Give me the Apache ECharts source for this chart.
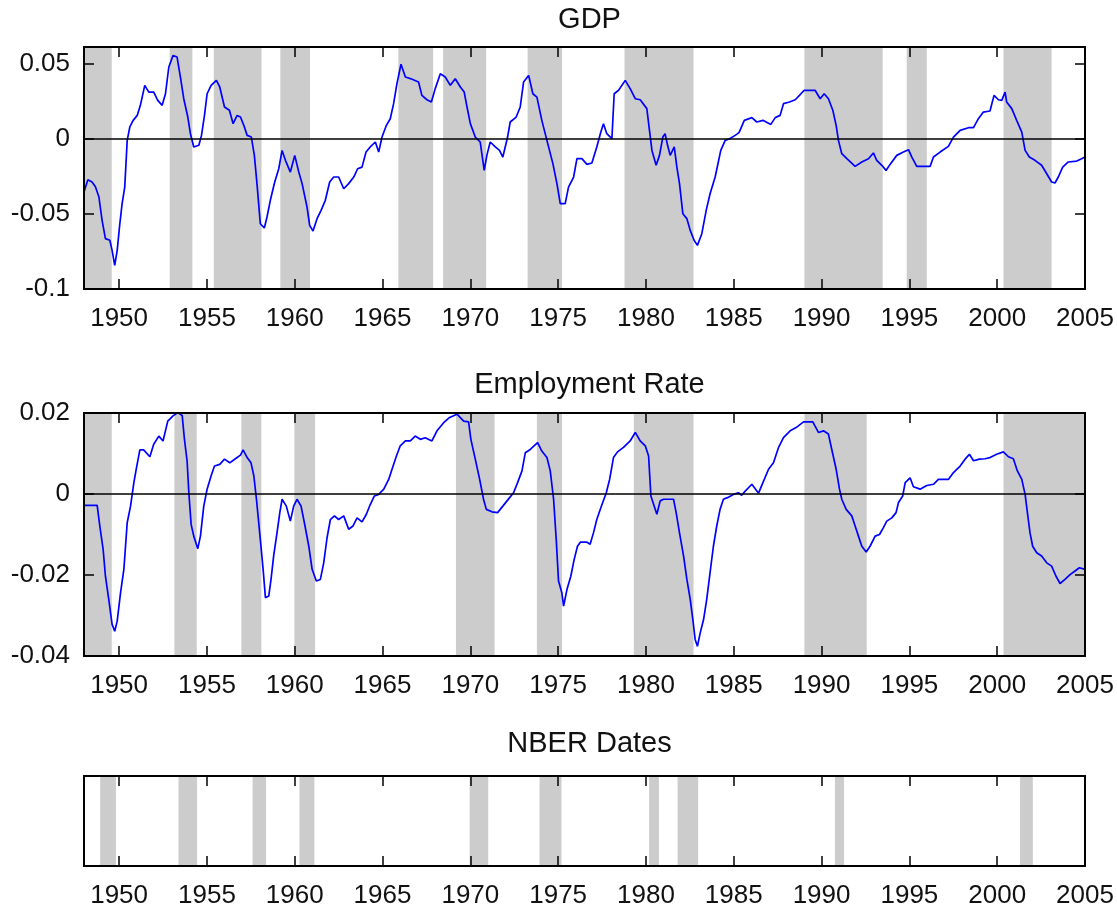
<!DOCTYPE html>
<html>
<head>
<meta charset="utf-8">
<title>GDP, Employment Rate and NBER Dates</title>
<script src="https://cdn.jsdelivr.net/npm/echarts@6/dist/echarts.min.js"></script>
<style>
  html, body { margin: 0; padding: 0; background: #fff; }
  #main { width: 1117px; height: 914px; }
</style>
</head>
<body>
<div id="main"></div>
<script>
// x axis (years)
const yearTicks = [1950, 1955, 1960, 1965, 1970, 1975, 1980, 1985, 1990, 1995, 2000, 2005];
const gdpTicks = [-0.1, -0.05, 0, 0.05];
const gdpTickLabels = ['-0.1', '-0.05', '0', '0.05'];
const empTicks = [-0.04, -0.02, 0, 0.02];
const empTickLabels = ['-0.04', '-0.02', '0', '0.02'];

// shaded periods [start, end]
const gdpRegimes = [
  [1948.0, 1949.58], [1952.88, 1954.17], [1955.39, 1958.11], [1959.18, 1960.87],
  [1965.9, 1967.88], [1968.45, 1970.9], [1973.26, 1975.22], [1978.78, 1982.71],
  [1989.02, 1993.48], [1994.85, 1995.99], [2000.36, 2003.1]
];
const empRegimes = [
  [1948.0, 1949.58], [1953.15, 1954.42], [1956.96, 1958.1], [1959.98, 1961.16],
  [1969.18, 1971.38], [1973.79, 1975.22], [1979.31, 1982.71], [1989.02, 1992.57],
  [2000.36, 2005.0]
];
const nberDates = [
  [1948.92, 1949.82], [1953.38, 1954.44], [1957.6, 1958.37], [1960.27, 1961.12],
  [1969.96, 1971.02], [1973.94, 1975.19], [1980.18, 1980.74], [1981.8, 1982.97],
  [1990.76, 1991.28], [2001.3, 2002.03]
];

// GDP (year, value)
const gdpPoints = [
  [1948.0,-0.0355],[1948.22,-0.0273],[1948.46,-0.0288],[1948.65,-0.032],[1948.85,-0.0388],
  [1949.03,-0.0543],[1949.22,-0.0665],[1949.47,-0.0676],[1949.6,-0.0743],[1949.75,-0.0843],
  [1949.89,-0.0743],[1950.04,-0.0566],[1950.17,-0.0432],[1950.32,-0.0322],[1950.46,-0.0011],
  [1950.61,0.0078],[1950.8,0.0122],[1951.03,0.0155],[1951.21,0.0222],[1951.46,0.0355],
  [1951.69,0.031],[1951.97,0.031],[1952.2,0.0255],[1952.45,0.0222],[1952.64,0.0299],
  [1952.83,0.0477],[1953.07,0.0554],[1953.3,0.0543],[1953.49,0.041],[1953.68,0.0266],
  [1953.91,0.0144],[1954.06,0.0033],[1954.25,-0.0055],[1954.54,-0.0044],[1954.69,0.0022],
  [1954.86,0.0155],[1955.01,0.0299],[1955.24,0.0355],[1955.54,0.0388],[1955.73,0.0344],
  [1956.0,0.0211],[1956.28,0.0189],[1956.49,0.01],[1956.72,0.0155],[1956.91,0.0144],
  [1957.1,0.0089],[1957.29,0.0022],[1957.53,0.0011],[1957.7,-0.0111],[1957.85,-0.0299],
  [1958.04,-0.0566],[1958.27,-0.0594],[1958.42,-0.0521],[1958.61,-0.041],[1958.86,-0.0288],
  [1959.09,-0.02],[1959.28,-0.0078],[1959.47,-0.0144],[1959.75,-0.0222],[1960.0,-0.0111],
  [1960.23,-0.0222],[1960.42,-0.0299],[1960.7,-0.0455],[1960.85,-0.0577],[1961.04,-0.0614],
  [1961.27,-0.0532],[1961.5,-0.0477],[1961.74,-0.041],[1961.99,-0.0288],[1962.22,-0.0255],
  [1962.5,-0.0255],[1962.79,-0.0333],[1963.07,-0.0299],[1963.36,-0.0255],[1963.58,-0.02],
  [1963.83,-0.0189],[1964.06,-0.0089],[1964.3,-0.0055],[1964.59,-0.0022],[1964.78,-0.0089],
  [1964.97,0.0011],[1965.22,0.0089],[1965.44,0.0133],[1965.63,0.0233],[1965.82,0.0366],
  [1966.05,0.0495],[1966.3,0.041],[1966.58,0.04],[1967.05,0.0377],[1967.24,0.0288],
  [1967.53,0.0259],[1967.78,0.0244],[1968.0,0.0333],[1968.29,0.0432],[1968.57,0.041],
  [1968.86,0.0355],[1969.14,0.0399],[1969.43,0.0344],[1969.65,0.031],[1969.81,0.0211],
  [1970.0,0.01],[1970.28,0.0011],[1970.56,-0.0022],[1970.79,-0.0211],[1970.94,-0.0111],
  [1971.13,-0.0022],[1971.42,-0.0055],[1971.66,-0.0078],[1971.85,-0.0122],[1972.12,0.0011],
  [1972.27,0.0111],[1972.61,0.0144],[1972.84,0.0211],[1973.03,0.0377],[1973.32,0.0421],
  [1973.56,0.0299],[1973.79,0.0277],[1974.07,0.0122],[1974.36,-0.0011],[1974.7,-0.0166],
  [1974.93,-0.0299],[1975.12,-0.0432],[1975.4,-0.0432],[1975.59,-0.0322],[1975.88,-0.0255],
  [1976.07,-0.0133],[1976.35,-0.0133],[1976.64,-0.0171],[1976.92,-0.0162],[1977.2,-0.0055],
  [1977.43,0.0044],[1977.58,0.01],[1977.77,0.0033],[1978.06,0.0],[1978.19,0.0299],
  [1978.44,0.0322],[1978.82,0.0388],[1979.1,0.0333],[1979.39,0.0266],[1979.67,0.0259],
  [1980.05,0.02],[1980.2,0.0055],[1980.34,-0.0078],[1980.58,-0.0177],[1980.77,-0.0111],
  [1980.96,0.0011],[1981.09,0.0033],[1981.23,-0.0044],[1981.38,-0.0111],[1981.61,-0.0055],
  [1981.76,-0.0189],[1981.91,-0.0299],[1982.1,-0.0499],[1982.33,-0.0532],[1982.52,-0.061],
  [1982.74,-0.0676],[1982.93,-0.071],[1983.18,-0.0632],[1983.43,-0.0477],[1983.65,-0.0366],
  [1983.94,-0.0255],[1984.26,-0.0078],[1984.51,-0.0011],[1984.76,0.0],[1985.08,0.0022],
  [1985.3,0.004],[1985.6,0.0122],[1986.03,0.014],[1986.31,0.0111],[1986.66,0.0122],
  [1987.11,0.0095],[1987.36,0.014],[1987.64,0.0155],[1987.83,0.0233],[1988.17,0.0244],
  [1988.5,0.0259],[1988.74,0.0288],[1989.01,0.0322],[1989.63,0.0322],[1989.92,0.0266],
  [1990.15,0.0299],[1990.39,0.0266],[1990.64,0.0189],[1990.83,0.0089],[1990.96,-0.0011],
  [1991.15,-0.01],[1991.44,-0.0133],[1991.91,-0.0184],[1992.29,-0.0155],[1992.67,-0.0133],
  [1992.95,-0.0095],[1993.14,-0.0144],[1993.43,-0.0177],[1993.67,-0.0211],[1993.9,-0.0171],
  [1994.28,-0.0111],[1994.66,-0.0089],[1994.95,-0.0073],[1995.14,-0.0122],[1995.42,-0.0184],
  [1996.18,-0.0184],[1996.37,-0.0122],[1996.75,-0.0089],[1997.22,-0.0051],[1997.51,0.0011],
  [1997.89,0.0055],[1998.36,0.0073],[1998.65,0.0073],[1998.93,0.0133],[1999.21,0.0177],
  [1999.59,0.0184],[1999.82,0.0288],[2000.07,0.0259],[2000.26,0.0255],[2000.45,0.031],
  [2000.54,0.0244],[2000.83,0.02],[2001.11,0.0122],[2001.4,0.0044],[2001.59,-0.0078],
  [2001.83,-0.0122],[2002.15,-0.0144],[2002.53,-0.0177],[2002.82,-0.0233],[2003.1,-0.0288],
  [2003.29,-0.0295],[2003.48,-0.0255],[2003.73,-0.0189],[2004.05,-0.0155],[2004.53,-0.0149],
  [2004.81,-0.0133],[2005.0,-0.0122]
];

// Employment rate (year, value)
const empPoints = [
  [1948.0,-0.0028],[1948.75,-0.0028],[1948.9,-0.0079],[1949.09,-0.0137],[1949.22,-0.0203],
  [1949.41,-0.026],[1949.6,-0.0322],[1949.75,-0.0339],[1949.89,-0.0314],[1950.08,-0.0244],
  [1950.27,-0.0186],[1950.46,-0.0071],[1950.65,-0.003],[1950.84,0.0028],[1950.99,0.0065],
  [1951.18,0.0109],[1951.4,0.0109],[1951.75,0.0092],[1951.97,0.0123],[1952.26,0.0143],
  [1952.5,0.0131],[1952.77,0.018],[1953.07,0.0193],[1953.34,0.0201],[1953.59,0.0194],
  [1953.72,0.0135],[1953.87,0.0082],[1953.97,0.0003],[1954.1,-0.0075],[1954.25,-0.0104],
  [1954.48,-0.0135],[1954.63,-0.0104],[1954.82,-0.003],[1955.01,0.0012],[1955.24,0.0045],
  [1955.43,0.0069],[1955.73,0.0073],[1956.0,0.0086],[1956.3,0.0077],[1956.62,0.0087],
  [1956.91,0.0096],[1957.06,0.0109],[1957.29,0.009],[1957.51,0.0077],[1957.67,0.0045],
  [1957.82,-0.0013],[1958.04,-0.0112],[1958.2,-0.0186],[1958.33,-0.0256],[1958.52,-0.0252],
  [1958.65,-0.0211],[1958.8,-0.0153],[1958.99,-0.0096],[1959.15,-0.0046],[1959.28,-0.0013],
  [1959.52,-0.003],[1959.75,-0.0067],[1959.94,-0.003],[1960.13,-0.0013],[1960.36,-0.003],
  [1960.55,-0.0071],[1960.8,-0.0129],[1960.99,-0.0186],[1961.23,-0.0215],[1961.46,-0.0211],
  [1961.65,-0.017],[1961.84,-0.0108],[1962.03,-0.0063],[1962.26,-0.0054],[1962.5,-0.0063],
  [1962.79,-0.0054],[1963.07,-0.0087],[1963.32,-0.0079],[1963.55,-0.0059],[1963.83,-0.0069],
  [1964.08,-0.005],[1964.3,-0.0026],[1964.53,-0.0005],[1964.78,-0.0001],[1965.07,0.0012],
  [1965.35,0.0036],[1965.54,0.0061],[1965.79,0.0094],[1966.01,0.0119],[1966.3,0.0131],
  [1966.58,0.0131],[1966.86,0.0143],[1967.15,0.0135],[1967.43,0.0139],[1967.81,0.0131],
  [1968.1,0.0156],[1968.48,0.0176],[1968.82,0.0189],[1969.24,0.0197],[1969.62,0.018],
  [1969.9,0.0178],[1970.03,0.0135],[1970.28,0.0086],[1970.53,0.0036],[1970.75,-0.0013],
  [1970.91,-0.0038],[1971.23,-0.0044],[1971.55,-0.0046],[1971.85,-0.003],[1972.18,-0.0012],
  [1972.46,0.0003],[1972.69,0.0028],[1972.94,0.0057],[1973.13,0.0102],[1973.41,0.011],
  [1973.83,0.0127],[1974.07,0.0106],[1974.36,0.009],[1974.55,0.0057],[1974.74,-0.0013],
  [1974.89,-0.0112],[1975.02,-0.0215],[1975.21,-0.0244],[1975.31,-0.0277],[1975.5,-0.0236],
  [1975.72,-0.0203],[1975.91,-0.0162],[1976.1,-0.0129],[1976.26,-0.0119],[1976.64,-0.0119],
  [1976.82,-0.0124],[1977.01,-0.0096],[1977.2,-0.0063],[1977.43,-0.0034],[1977.74,0.0003],
  [1977.93,0.0036],[1978.15,0.009],[1978.38,0.0104],[1978.72,0.0115],[1979.1,0.0131],
  [1979.39,0.0152],[1979.67,0.0131],[1979.96,0.0119],[1980.15,0.0094],[1980.28,-0.0005],
  [1980.47,-0.003],[1980.62,-0.005],[1980.81,-0.0017],[1981.0,-0.0013],[1981.57,-0.0013],
  [1981.72,-0.0046],[1981.91,-0.0096],[1982.14,-0.0153],[1982.33,-0.0211],[1982.52,-0.026],
  [1982.67,-0.031],[1982.8,-0.0359],[1982.93,-0.0376],[1983.09,-0.0343],[1983.28,-0.031],
  [1983.46,-0.026],[1983.65,-0.0194],[1983.84,-0.0129],[1984.03,-0.0079],[1984.22,-0.0038],
  [1984.41,-0.0013],[1984.64,-0.0009],[1984.98,-0.0001],[1985.27,0.0003],[1985.45,-0.0003],
  [1985.65,0.0007],[1986.03,0.0024],[1986.41,0.0002],[1986.66,0.0028],[1986.98,0.0061],
  [1987.26,0.0077],[1987.55,0.0115],[1987.83,0.0139],[1988.21,0.0156],[1988.55,0.0164],
  [1988.97,0.0178],[1989.5,0.0178],[1989.82,0.0152],[1990.11,0.0156],[1990.39,0.0148],
  [1990.58,0.011],[1990.83,0.0061],[1991.02,0.0012],[1991.15,-0.0013],[1991.4,-0.0038],
  [1991.72,-0.0054],[1991.91,-0.0079],[1992.1,-0.0104],[1992.29,-0.0129],[1992.54,-0.0143],
  [1992.76,-0.0129],[1993.05,-0.0104],[1993.3,-0.01],[1993.52,-0.0083],[1993.71,-0.0067],
  [1994.0,-0.0059],[1994.24,-0.0046],[1994.38,-0.0021],[1994.62,-0.0005],[1994.76,0.0028],
  [1995.04,0.004],[1995.23,0.0018],[1995.61,0.0012],[1995.99,0.0021],[1996.37,0.0024],
  [1996.65,0.0036],[1997.22,0.0036],[1997.51,0.0053],[1997.89,0.0069],[1998.17,0.0086],
  [1998.42,0.0098],[1998.65,0.0082],[1998.99,0.0086],[1999.31,0.0087],[1999.59,0.009],
  [1999.97,0.0098],[2000.35,0.0104],[2000.64,0.0092],[2000.92,0.0087],[2001.15,0.0057],
  [2001.4,0.0036],[2001.59,-0.0001],[2001.72,-0.0046],[2001.87,-0.0096],[2002.02,-0.0129],
  [2002.25,-0.0145],[2002.53,-0.0153],[2002.82,-0.017],[2003.1,-0.0178],[2003.35,-0.0203],
  [2003.58,-0.0221],[2003.86,-0.0211],[2004.15,-0.0199],[2004.43,-0.019],[2004.68,-0.0182],
  [2005.0,-0.0186]
];

const FONT = '"Liberation Sans", Arial, Helvetica, sans-serif';
const TEXT = '#111';
const SHADE = '#cccccc';
const PLOT_LEFT = 84;
const PLOT_WIDTH = 1001;
const X_MIN = 1948;
const X_MAX = 2005;
const TICK_LEN = 10; // px

const panels = [
  { title: 'GDP', titleTop: 0, top: 47, height: 242, min: -0.1, max: 0.061,
    ticks: gdpTicks, labels: gdpTickLabels, points: gdpPoints, shade: gdpRegimes },
  { title: 'Employment Rate', titleTop: 365, top: 413, height: 243, min: -0.04, max: 0.02,
    ticks: empTicks, labels: empTickLabels, points: empPoints, shade: empRegimes },
  { title: 'NBER Dates', titleTop: 724, top: 776, height: 90, min: 0, max: 1,
    ticks: [], labels: [], points: null, shade: nberDates }
];

const chart = echarts.init(document.getElementById('main'));

function shading(periods) {
  return {
    silent: true,
    itemStyle: { color: SHADE },
    data: periods.map(p => [{ xAxis: p[0] }, { xAxis: p[1] }])
  };
}

// inward tick marks on all four sides, in data units of the panel's axes
function tickMarks(p) {
  const dy = TICK_LEN * (p.max - p.min) / p.height;
  const dx = TICK_LEN * (X_MAX - X_MIN) / PLOT_WIDTH;
  const segs = [];
  yearTicks.forEach(t => {
    segs.push([{ coord: [t, p.min] }, { coord: [t, p.min + dy] }]);
    segs.push([{ coord: [t, p.max] }, { coord: [t, p.max - dy] }]);
  });
  p.ticks.forEach(v => {
    segs.push([{ coord: [X_MIN, v] }, { coord: [X_MIN + dx, v] }]);
    segs.push([{ coord: [X_MAX, v] }, { coord: [X_MAX - dx, v] }]);
  });
  return segs;
}

const option = {
  backgroundColor: '#fff',
  animation: false,
  title: panels.map(p => ({
    text: p.title, left: PLOT_LEFT + PLOT_WIDTH / 2, top: p.titleTop, textAlign: 'center',
    textStyle: { fontSize: 29, fontWeight: 'normal', color: TEXT, fontFamily: FONT }
  })),
  grid: panels.map(p => ({
    left: PLOT_LEFT, width: PLOT_WIDTH, top: p.top, height: p.height,
    show: true, borderColor: '#000', borderWidth: 2, backgroundColor: 'transparent', z: 10
  })),
  xAxis: panels.map((p, i) => ({
    type: 'value', gridIndex: i, min: X_MIN, max: X_MAX,
    axisLine: { show: false, onZero: false }, axisTick: { show: false },
    splitLine: { show: false },
    axisLabel: {
      customValues: yearTicks, margin: 17, fontSize: 26, color: TEXT, fontFamily: FONT,
      formatter: v => String(Math.round(v))
    }
  })),
  yAxis: panels.map((p, i) => ({
    type: 'value', gridIndex: i, min: p.min, max: p.max,
    axisLine: { show: false, onZero: false }, axisTick: { show: false },
    splitLine: { show: false },
    axisLabel: {
      show: p.ticks.length > 0,
      customValues: p.ticks, margin: 14, fontSize: 26, color: TEXT, fontFamily: FONT,
      padding: [8, 0, 0, 0],
      formatter: v => {
        const k = p.ticks.findIndex(t => Math.abs(t - v) < 1e-9);
        return k >= 0 ? p.labels[k] : '';
      }
    }
  })),
  series: [].concat(
    // tick marks sit below the shading, like the original
    panels.map((p, i) => ({
      type: 'line', xAxisIndex: i, yAxisIndex: i, data: [], z: 1,
      markLine: {
        silent: true, symbol: 'none', label: { show: false },
        lineStyle: { color: '#000', width: 1.5, type: 'solid' },
        data: tickMarks(p)
      }
    })),
    panels.map((p, i) => {
      const s = {
        name: p.title, type: 'line', xAxisIndex: i, yAxisIndex: i,
        data: p.points || [], showSymbol: false, z: 3,
        lineStyle: { color: '#0000ff', width: 1.7 },
        markArea: shading(p.shade)
      };
      if (p.points) {
        s.markLine = {
          silent: true, symbol: 'none', label: { show: false },
          lineStyle: { color: '#000', width: 1.6, type: 'solid' },
          data: [{ yAxis: 0 }]
        };
      }
      return s;
    })
  )
};

chart.setOption(option);
</script>
</body>
</html>
